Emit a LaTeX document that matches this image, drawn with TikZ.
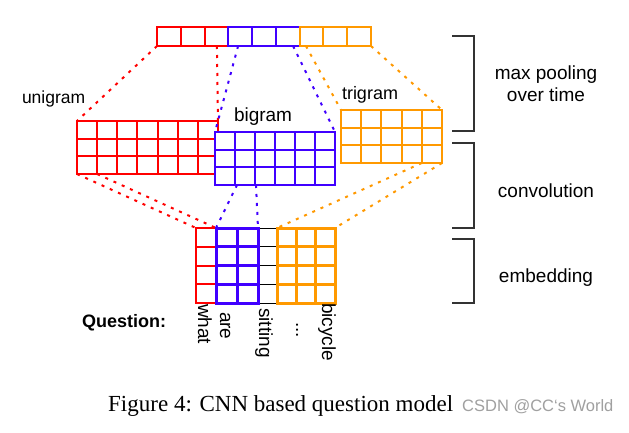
\documentclass[tikz,border=0pt]{standalone}
\usepackage{fontspec}
\setmainfont{Liberation Sans}
\newfontfamily\capfont{Liberation Serif}
\usetikzlibrary{calc}
\definecolor{cred}{RGB}{255,0,0}
\definecolor{cblue}{RGB}{64,0,255}
\definecolor{corange}{RGB}{255,153,0}
\definecolor{cgray}{RGB}{51,51,51}
\definecolor{wmgray}{RGB}{160,160,160}
\tikzset{
  mat/.style={draw, fill=white, inner sep=0pt, outer sep=0pt, anchor=north west, line width=1.9pt},
  redline/.style={draw=cred, line width=1.9pt},
  blueline/.style={draw=cblue, line width=1.7pt},
  orline/.style={draw=corange, line width=1.9pt},
  dotline/.style={line width=2pt, dash pattern=on 3pt off 6pt},
  lbl/.style={font=\fontsize{19}{22}\selectfont, inner sep=0pt, outer sep=0pt},
  word/.style={font=\fontsize{19}{22}\selectfont, inner sep=0pt, outer sep=0pt, rotate=-90, anchor=base west},
  brk/.style={draw=cgray, line width=1.3pt},
}
\begin{document}
\begin{tikzpicture}[x=1pt,y=-1pt]
\useasboundingbox (0,0) rectangle (629,433);
\fill[white] (0,0) rectangle (629,433);

% pooled vector
\node[mat, draw=none, fill=none, minimum width=214pt, minimum height=19pt] (vec) at (157,27) {};
\draw[redline] (vec.north west) rectangle ($(vec.south west)!1/3!(vec.south east)$);
\draw[blueline] ($(vec.north west)!1/3!(vec.north east)$) rectangle ($(vec.south west)!2/3!(vec.south east)$);
\draw[orline] ($(vec.north west)!2/3!(vec.north east)$) rectangle (vec.south east);
\foreach \i in {1,2} {\draw[redline] ($(vec.north west)!\i/9!(vec.north east)$) -- ($(vec.south west)!\i/9!(vec.south east)$);}
\foreach \i in {4,5} {\draw[blueline] ($(vec.north west)!\i/9!(vec.north east)$) -- ($(vec.south west)!\i/9!(vec.south east)$);}
\foreach \i in {7,8} {\draw[orline] ($(vec.north west)!\i/9!(vec.north east)$) -- ($(vec.south west)!\i/9!(vec.south east)$);}

% convolution maps
\node[mat, draw=cred, minimum width=141pt, minimum height=53pt] (uni) at (77,121) {};
\foreach \i in {1,...,6} {\draw[redline] ($(uni.north west)!\i/7!(uni.north east)$) -- ($(uni.south west)!\i/7!(uni.south east)$);}
\foreach \j in {1,2} {\draw[redline, line width=2.2pt] ($(uni.north west)!\j/3!(uni.south west)$) -- ($(uni.north east)!\j/3!(uni.south east)$);}

\node[mat, draw=cblue, line width=1.7pt, minimum width=120pt, minimum height=53pt] (bi) at (215,132) {};
\foreach \i in {1,...,5} {\draw[blueline] ($(bi.north west)!\i/6!(bi.north east)$) -- ($(bi.south west)!\i/6!(bi.south east)$);}
\foreach \j in {1,2} {\draw[blueline] ($(bi.north west)!\j/3!(bi.south west)$) -- ($(bi.north east)!\j/3!(bi.south east)$);}

\node[mat, draw=corange, minimum width=101pt, minimum height=53pt] (tri) at (341,110) {};
\foreach \i in {1,...,4} {\draw[orline] ($(tri.north west)!\i/5!(tri.north east)$) -- ($(tri.south west)!\i/5!(tri.south east)$);}
\foreach \j in {1,2} {\draw[orline] ($(tri.north west)!\j/3!(tri.south west)$) -- ($(tri.north east)!\j/3!(tri.south east)$);}

% embedding
\node[mat, draw=none, fill=none, minimum width=19pt, minimum height=75pt] (emb3) at (258,228) {};
\foreach \j in {0,...,4} {\draw[black, line width=1pt] ($(emb3.north west)!\j/4!(emb3.south west)$) -- ($(emb3.north east)!\j/4!(emb3.south east)$);}
\node[mat, draw=cred, line width=2pt, minimum width=20pt, minimum height=75pt] (emb1) at (196,228) {};
\foreach \j in {1,2,3} {\draw[redline, line width=2pt] ($(emb1.north west)!\j/4!(emb1.south west)$) -- ($(emb1.north east)!\j/4!(emb1.south east)$);}
\node[mat, draw=cblue, fill=none, line width=3pt, minimum width=42pt, minimum height=75pt] (emb2) at (216,228) {};
\draw[blueline, line width=3pt] (emb2.north) -- (emb2.south);
\foreach \j in {1,2,3} {\draw[blueline, line width=3pt] ($(emb2.north west)!\j/4!(emb2.south west)$) -- ($(emb2.north east)!\j/4!(emb2.south east)$);}
\node[mat, draw=corange, fill=none, line width=3pt, minimum width=58pt, minimum height=75pt] (emb4) at (277,228) {};
\foreach \i in {1,2} {\draw[orline, line width=3pt] ($(emb4.north west)!\i/3!(emb4.north east)$) -- ($(emb4.south west)!\i/3!(emb4.south east)$);}
\foreach \j in {1,2,3} {\draw[orline, line width=3pt] ($(emb4.north west)!\j/4!(emb4.south west)$) -- ($(emb4.north east)!\j/4!(emb4.south east)$);}

% dotted connectors: pooling
\draw[dotline, cred] (vec.south west) -- (uni.north west);
\draw[dotline, cred] ($(vec.south west)!0.28!(vec.south east)$) -- (uni.north east);
\draw[dotline, cblue] ($(vec.south west)!0.379!(vec.south east)$) -- (bi.north west);
\draw[dotline, cblue] ($(vec.south west)!0.636!(vec.south east)$) -- (bi.north east);
\draw[dotline, corange] ($(vec.south west)!0.696!(vec.south east)$) -- (tri.north west);
\draw[dotline, corange] (vec.south east) -- (tri.north east);
% dotted connectors: convolution
\draw[dotline, cred] (uni.south west) -- (emb1.north west);
\draw[dotline, cred] ($(uni.south west)!1/7!(uni.south east)$) -- (emb1.north east);
\draw[dotline, cblue] ($(bi.south west)!1.1/6!(bi.south east)$) -- (emb2.north west);
\draw[dotline, cblue] ($(bi.south west)!2.05/6!(bi.south east)$) -- (emb2.north east);
\draw[dotline, corange] ($(tri.south west)!4/5!(tri.south east)$) -- (emb4.north west);
\draw[dotline, corange] (tri.south east) -- (emb4.north east);

% labels
\node[lbl, font=\fontsize{17.5}{20}\selectfont, anchor=base west] (lu) at (22,104) {unigram};
\node[lbl, anchor=base west] (lb) at (234,122) {bigram};
\node[lbl, font=\fontsize{18}{21}\selectfont, anchor=base west] (lt) at (342,100) {trigram};

% words
\node[lbl, font=\bfseries\fontsize{18}{21}\selectfont, anchor=base west] (q) at (82,327) {Question:};
\node[word] (w1) at (198,304) {what};
\node[word] (w2) at (220,312) {are};
\node[word] (w3) at (259,308) {sitting};
\node[word] (w4) at (296,322) {...};
\node[word] (w5) at (322,303) {bicycle};

% brackets
\draw[brk] (452,36) -- (474,36) -- (474,131) -- (452,131);
\draw[brk] (452,143) -- (474,143) -- (474,228) -- (452,228);
\draw[brk] (452,239) -- (474,239) -- (474,303) -- (452,303);
\node[lbl, anchor=base] (l1) at (546,80) {max pooling};
\node[lbl, anchor=base] (l1b) at (546,102) {over time};
\node[lbl, anchor=base] (l2) at (546,197) {convolution};
\node[lbl, anchor=base] (l3) at (546,282) {embedding};

% caption
\node[inner sep=0pt, font=\capfont\fontsize{23}{26}\selectfont, anchor=base west] (cap) at (108,411) {Figure 4: CNN based question model};
\node[inner sep=0pt, font=\fontsize{16.5}{19}\selectfont, text=wmgray, anchor=base west] (wm) at (462,411) {CSDN @CC‘s World};
\end{tikzpicture}
\end{document}
